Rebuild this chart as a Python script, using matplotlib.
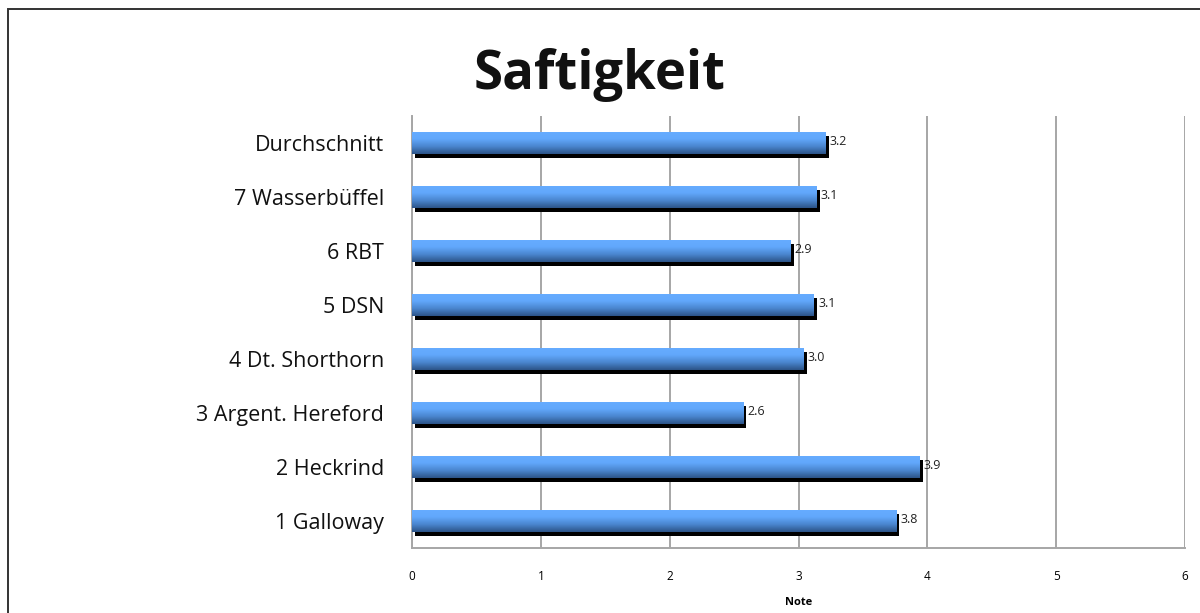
import numpy as np
import matplotlib
matplotlib.use("Agg")
import matplotlib.pyplot as plt
import matplotlib.patheffects as pe
from matplotlib.colors import LinearSegmentedColormap
from matplotlib.patches import Rectangle

plt.rcParams['font.family'] = ['Open Sans', 'DejaVu Sans']

# categories (bottom to top) and their scores
categories = ["1 Galloway", "2 Heckrind", "3 Argent. Hereford", "4 Dt. Shorthorn",
              "5 DSN", "6 RBT", "7 Wasserbüffel", "Durchschnitt"]
scores = [3.76, 3.94, 2.57, 3.04, 3.12, 2.94, 3.14, 3.21]
x_ticks = [0, 1, 2, 3, 4, 5, 6]

fig = plt.figure(figsize=(12, 6.13), dpi=100)
ax = fig.add_axes([412/1200, 65/613, 773/1200, 432/613])

# gradient from light blue (top) to dark blue (bottom)
grad = LinearSegmentedColormap.from_list("bar", ["#2c5488", "#4a86cf", "#62a8fc", "#66acff"])
gimg = np.linspace(0, 1, 64).reshape(-1, 1)

ypos = np.arange(len(categories))
h = 0.41
bars = ax.barh(ypos, scores, height=h, color="#4a86cf", zorder=3)
for b in bars:
    b.set_path_effects([pe.SimplePatchShadow(offset=(2.2, -2.9), shadow_rgbFace="black", alpha=1.0),
                        pe.Normal()])
    x0, y0 = b.get_x(), b.get_y()
    w, hh = b.get_width(), b.get_height()
    im = ax.imshow(gimg, cmap=grad, aspect="auto", origin="lower",
                   extent=[x0, x0 + w, y0, y0 + hh], zorder=4)
    im.set_clip_path(b)

for y, v in zip(ypos, scores):
    ax.annotate(f"{v:.1f}", (v, y), xytext=(3, 1), textcoords="offset points",
                ha="left", va="center", fontsize=9, color="#222222", zorder=5)

ax.set_xlim(0, 6)
ax.set_ylim(-0.5, len(categories) - 0.5)
ax.set_xticks(x_ticks)
ax.set_xticklabels([str(t) for t in x_ticks], fontsize=8.5)
ax.set_yticks(ypos)
ax.set_yticklabels(categories, fontsize=15.5, color="#111111")
ax.tick_params(axis="y", length=0, pad=20)
ax.tick_params(axis="x", length=0, pad=16)
ax.xaxis.grid(True, color="#a6a6a6", linewidth=1.4, zorder=0)
ax.set_axisbelow(True)
for s in ["top", "right"]:
    ax.spines[s].set_visible(False)
for s in ["left", "bottom"]:
    ax.spines[s].set_color("#a6a6a6")
    ax.spines[s].set_linewidth(1.4)

ax.set_xlabel("Note", fontsize=8, fontweight="bold", labelpad=10)

fig.text(0.5, 0.878, "Saftigkeit", ha="center", va="center",
         fontsize=38, fontweight="bold", color="#111111")

# outer frame (cut off on right and bottom)
fig.add_artist(Rectangle((8/1200, -0.1), 1.2, (613 - 9)/613 + 0.1, transform=fig.transFigure,
                         fill=False, edgecolor="#333333", linewidth=1.4))

fig.savefig("out.png", dpi=100)
